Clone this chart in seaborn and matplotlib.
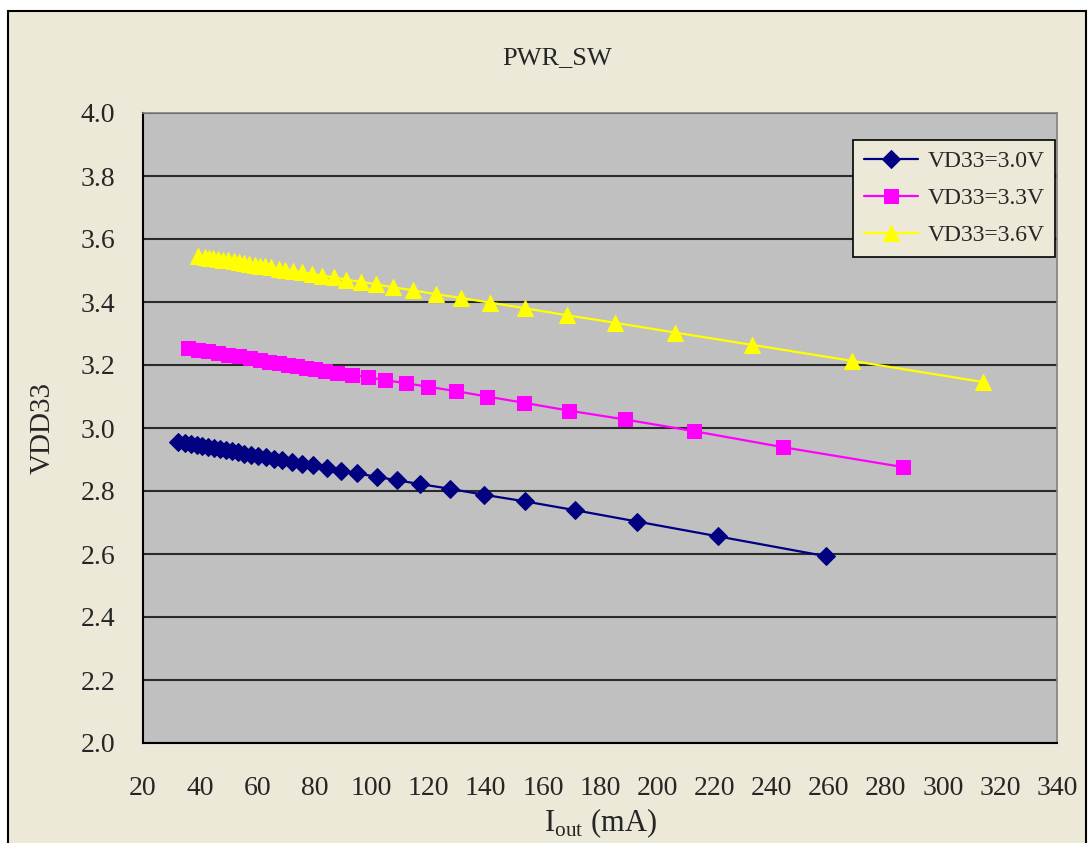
import matplotlib
matplotlib.use("Agg")
import matplotlib.pyplot as plt
from matplotlib.patches import Rectangle
import pandas as pd
import seaborn as sns

# VDD33 = 3.0 V
iout_30 = [32.3, 34.7, 36.8, 38.9, 40.7, 42.8, 44.9, 47.0, 49.1, 51.2, 53.3, 55.4, 57.8,
           60.3, 63.1, 65.9, 68.7, 72.2, 75.7, 79.6, 84.4, 89.3, 94.9, 101.9, 108.9,
           117.0, 127.5, 139.4, 153.8, 171.3, 193.0, 221.3, 259.1]
vdd_30 = [2.956, 2.952, 2.949, 2.946, 2.943, 2.939, 2.936, 2.933, 2.929, 2.926, 2.923,
          2.919, 2.915, 2.911, 2.907, 2.903, 2.898, 2.893, 2.887, 2.881, 2.873, 2.865,
          2.856, 2.845, 2.834, 2.822, 2.807, 2.788, 2.767, 2.739, 2.703, 2.656, 2.593]

# VDD33 = 3.3 V
iout_33 = [35.8, 39.3, 42.8, 46.3, 49.8, 53.6, 57.5, 61.0, 64.1, 67.6, 70.8, 73.9, 77.1,
           80.2, 83.7, 87.9, 93.2, 98.8, 104.7, 112.1, 119.8, 129.6, 140.4, 153.4, 169.2,
           188.8, 212.9, 244.1, 286.1]
vdd_33 = [3.254, 3.249, 3.243, 3.238, 3.233, 3.227, 3.221, 3.216, 3.211, 3.206, 3.201,
          3.197, 3.192, 3.187, 3.181, 3.176, 3.169, 3.161, 3.152, 3.142, 3.131, 3.117,
          3.100, 3.080, 3.055, 3.027, 2.990, 2.939, 2.876]

# VDD33 = 3.6 V
iout_36 = [39.3, 41.7, 43.1, 44.5, 46.3, 48.0, 49.8, 51.9, 53.6, 55.4, 57.1, 59.2, 61.0,
           62.7, 64.8, 67.6, 69.7, 72.5, 75.7, 79.2, 82.7, 86.9, 91.1, 96.3, 101.6, 107.5,
           114.5, 122.6, 131.3, 141.5, 153.8, 168.5, 185.3, 206.3, 233.2, 268.3, 314.1]
vdd_36 = [3.547, 3.544, 3.541, 3.539, 3.537, 3.534, 3.532, 3.529, 3.526, 3.524, 3.521,
          3.518, 3.515, 3.513, 3.510, 3.506, 3.502, 3.499, 3.494, 3.489, 3.484, 3.478,
          3.471, 3.464, 3.456, 3.447, 3.437, 3.425, 3.413, 3.398, 3.380, 3.358, 3.334,
          3.303, 3.264, 3.213, 3.146]

x_ticks = list(range(20, 341, 20))
y_ticks = [2.0, 2.2, 2.4, 2.6, 2.8, 3.0, 3.2, 3.4, 3.6, 3.8, 4.0]

sns.set_style("white")
plt.rcParams["font.family"] = ["Liberation Serif", "DejaVu Serif"]
plt.rcParams["mathtext.fontset"] = "custom"
plt.rcParams["mathtext.rm"] = "Liberation Serif"

BEIGE = "#ECE9D8"
W, H = 1090, 843

fig = plt.figure(figsize=(W / 100, H / 100), dpi=100, facecolor="white")
fig.patches.append(Rectangle((8 / W, -0.02), (1086 - 8) / W, (H - 11) / H + 0.02,
                             transform=fig.transFigure, facecolor=BEIGE,
                             edgecolor="black", linewidth=1.5, zorder=-1))

ax = fig.add_axes([143 / W, 1 - 743 / H, (1057 - 143) / W, (743 - 113) / H])
ax.set_facecolor("#C0C0C0")

series = [
    ("VD33=3.0V", iout_30, vdd_30, "#000080", "D", 9),
    ("VD33=3.3V", iout_33, vdd_33, "#FF00FF", "s", 9.5),
    ("VD33=3.6V", iout_36, vdd_36, "#FFFF00", "^", 11),
]
for label, xs, ys, color, marker, ms in series:
    df = pd.DataFrame({"Iout": xs, "VDD33": ys})
    sns.lineplot(data=df, x="Iout", y="VDD33", ax=ax, color=color, marker=marker,
                 markersize=ms, markeredgecolor=color, linewidth=1.6,
                 estimator=None, sort=False, label=label, zorder=3)

ax.set_xlim(20, 340)
ax.set_ylim(2.0, 4.0)
ax.set_xticks(x_ticks)
ax.set_yticks(y_ticks)
ax.set_yticklabels([f"{v:.1f}" for v in y_ticks])
ax.yaxis.grid(True, color="#2a2a2a", linewidth=1.5, zorder=1)
ax.xaxis.grid(False)
ax.set_axisbelow(True)
ax.tick_params(axis="both", direction="in", length=7, width=1.2, color="black",
               labelsize=20)
ax.tick_params(axis="y", pad=20)
ax.tick_params(axis="x", pad=24)
for side in ["left", "bottom"]:
    ax.spines[side].set_color("black")
    ax.spines[side].set_linewidth(1.5)
for side in ["top", "right"]:
    ax.spines[side].set_color("#808080")
    ax.spines[side].set_linewidth(1.2)

ax.set_xlabel(r"I$_{\mathrm{out}}$ (mA)", fontsize=22, labelpad=4)
ax.set_ylabel("VDD33", fontsize=21, labelpad=18)
fig.text(557 / W, 1 - 58 / H, "PWR_SW", ha="center", va="center", fontsize=19)

leg = ax.legend(loc="upper right", bbox_to_anchor=(1055 / W, 1 - 140 / H),
                bbox_transform=fig.transFigure, borderaxespad=0, frameon=True,
                fancybox=False, fontsize=17, handlelength=2.3, labelspacing=0.65,
                borderpad=0.45, handletextpad=0.4)
leg.get_frame().set_facecolor(BEIGE)
leg.get_frame().set_edgecolor("black")
leg.get_frame().set_linewidth(1.2)
leg.get_frame().set_alpha(1)

fig.savefig("out.png", dpi=100, facecolor=fig.get_facecolor())
plt.close(fig)
